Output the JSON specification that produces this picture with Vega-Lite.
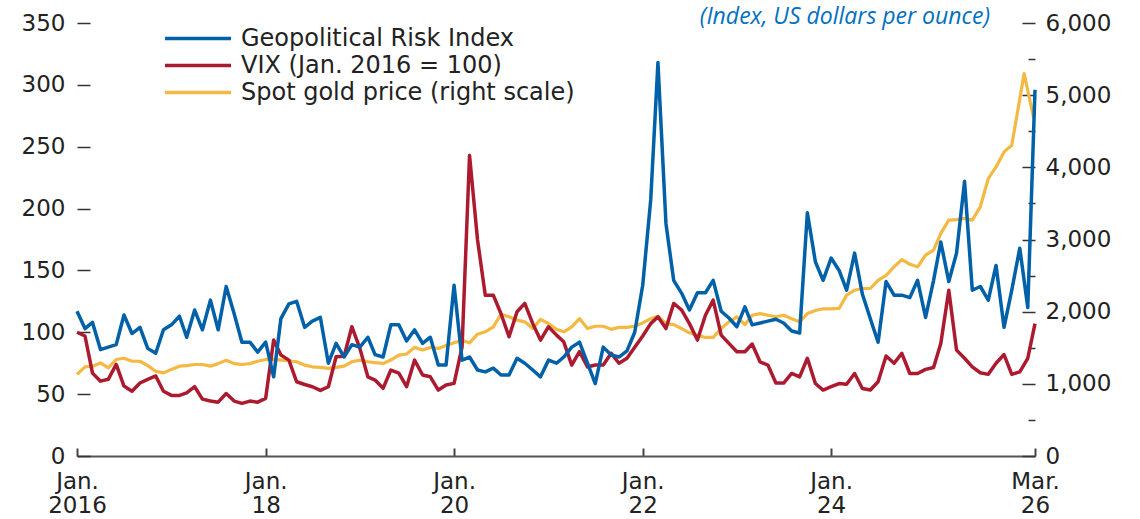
{
  "$schema": "https://vega.github.io/schema/vega-lite/v6.json",
  "width": 958,
  "height": 433,
  "autosize": {"type": "none"},
  "padding": {"left": 77, "top": 23, "right": 105, "bottom": 63},
  "background": "white",
  "config": {"view": {"stroke": null}, "font": "DejaVu Sans"},
  "title": {
    "text": "(Index, US dollars per ounce)",
    "anchor": "end",
    "orient": "top",
    "frame": "group",
    "offset": 0,
    "dx": -45,
    "dy": 35,
    "baseline": "alphabetic",
    "font": "Open Sans",
    "fontStyle": "italic",
    "fontWeight": "normal",
    "fontSize": 23,
    "color": "#0070C0"
  },
  "datasets": {
    "idx": [
      {"d": "2016/01/01", "g": 117, "v": 100},
      {"d": "2016/02/01", "g": 103, "v": 97},
      {"d": "2016/03/01", "g": 108, "v": 67},
      {"d": "2016/04/01", "g": 86, "v": 60.5},
      {"d": "2016/05/01", "g": 88, "v": 62},
      {"d": "2016/06/01", "g": 90, "v": 74},
      {"d": "2016/07/01", "g": 114, "v": 56.5},
      {"d": "2016/08/01", "g": 99, "v": 52.4},
      {"d": "2016/09/01", "g": 104, "v": 59},
      {"d": "2016/10/01", "g": 87, "v": 62},
      {"d": "2016/11/01", "g": 83, "v": 64.7},
      {"d": "2016/12/01", "g": 102, "v": 52.4},
      {"d": "2017/01/01", "g": 106, "v": 49},
      {"d": "2017/02/01", "g": 113, "v": 49},
      {"d": "2017/03/01", "g": 96, "v": 51},
      {"d": "2017/04/01", "g": 118, "v": 56},
      {"d": "2017/05/01", "g": 102, "v": 46},
      {"d": "2017/06/01", "g": 126, "v": 44.4},
      {"d": "2017/07/01", "g": 102, "v": 43.5},
      {"d": "2017/08/01", "g": 137, "v": 50.5},
      {"d": "2017/09/01", "g": 115, "v": 44.4},
      {"d": "2017/10/01", "g": 92, "v": 42.5},
      {"d": "2017/11/01", "g": 92, "v": 44.4},
      {"d": "2017/12/01", "g": 84, "v": 43.5},
      {"d": "2018/01/01", "g": 92, "v": 46.6},
      {"d": "2018/02/01", "g": 64, "v": 93.7},
      {"d": "2018/03/01", "g": 111, "v": 81.6},
      {"d": "2018/04/01", "g": 123, "v": 77.5},
      {"d": "2018/05/01", "g": 125, "v": 60},
      {"d": "2018/06/01", "g": 104, "v": 57.8},
      {"d": "2018/07/01", "g": 109, "v": 56},
      {"d": "2018/08/01", "g": 112, "v": 53},
      {"d": "2018/09/01", "g": 75, "v": 56},
      {"d": "2018/10/01", "g": 91, "v": 80.2},
      {"d": "2018/11/01", "g": 80, "v": 80.7},
      {"d": "2018/12/01", "g": 90, "v": 104.5},
      {"d": "2019/01/01", "g": 88, "v": 87},
      {"d": "2019/02/01", "g": 96, "v": 64},
      {"d": "2019/03/01", "g": 82, "v": 61.4},
      {"d": "2019/04/01", "g": 80, "v": 54.7},
      {"d": "2019/05/01", "g": 106, "v": 69.5},
      {"d": "2019/06/01", "g": 106, "v": 67},
      {"d": "2019/07/01", "g": 93, "v": 56},
      {"d": "2019/08/01", "g": 102, "v": 77.5},
      {"d": "2019/09/01", "g": 91, "v": 65.5},
      {"d": "2019/10/01", "g": 96, "v": 64},
      {"d": "2019/11/01", "g": 73.5, "v": 53.3},
      {"d": "2019/12/01", "g": 73.5, "v": 57.4},
      {"d": "2020/01/01", "g": 138, "v": 58.7},
      {"d": "2020/02/01", "g": 77.5, "v": 88},
      {"d": "2020/03/01", "g": 80, "v": 243},
      {"d": "2020/04/01", "g": 69.5, "v": 174.6},
      {"d": "2020/05/01", "g": 68, "v": 130},
      {"d": "2020/06/01", "g": 71, "v": 130},
      {"d": "2020/07/01", "g": 65.5, "v": 115},
      {"d": "2020/08/01", "g": 65.5, "v": 96.4},
      {"d": "2020/09/01", "g": 79, "v": 116.6},
      {"d": "2020/10/01", "g": 75, "v": 123.3},
      {"d": "2020/11/01", "g": 69.5, "v": 107},
      {"d": "2020/12/01", "g": 64, "v": 93.7},
      {"d": "2021/01/01", "g": 77.5, "v": 104.5},
      {"d": "2021/02/01", "g": 75, "v": 97.7},
      {"d": "2021/03/01", "g": 80, "v": 92.3},
      {"d": "2021/04/01", "g": 88, "v": 73.5},
      {"d": "2021/05/01", "g": 92, "v": 84.3},
      {"d": "2021/06/01", "g": 75, "v": 72},
      {"d": "2021/07/01", "g": 58.6, "v": 73.5},
      {"d": "2021/08/01", "g": 88, "v": 73.5},
      {"d": "2021/09/01", "g": 81.6, "v": 83},
      {"d": "2021/10/01", "g": 80, "v": 75},
      {"d": "2021/11/01", "g": 85, "v": 79},
      {"d": "2021/12/01", "g": 100, "v": 88},
      {"d": "2022/01/01", "g": 138, "v": 97},
      {"d": "2022/02/01", "g": 207, "v": 107},
      {"d": "2022/03/01", "g": 318, "v": 112.5},
      {"d": "2022/04/01", "g": 188, "v": 103},
      {"d": "2022/05/01", "g": 142, "v": 123.3},
      {"d": "2022/06/01", "g": 131.5, "v": 118},
      {"d": "2022/07/01", "g": 118, "v": 107},
      {"d": "2022/08/01", "g": 132, "v": 93.7},
      {"d": "2022/09/01", "g": 132, "v": 113.8},
      {"d": "2022/10/01", "g": 142, "v": 126},
      {"d": "2022/11/01", "g": 117, "v": 97.7},
      {"d": "2022/12/01", "g": 111.5, "v": 91},
      {"d": "2023/01/01", "g": 104.5, "v": 84.3},
      {"d": "2023/02/01", "g": 120.6, "v": 84.3},
      {"d": "2023/03/01", "g": 106, "v": 90.5},
      {"d": "2023/04/01", "g": 107.5, "v": 76},
      {"d": "2023/05/01", "g": 109, "v": 73.5},
      {"d": "2023/06/01", "g": 110.5, "v": 59},
      {"d": "2023/07/01", "g": 107.5, "v": 59},
      {"d": "2023/08/01", "g": 101, "v": 66.7},
      {"d": "2023/09/01", "g": 99.4, "v": 64},
      {"d": "2023/10/01", "g": 196.6, "v": 79},
      {"d": "2023/11/01", "g": 157, "v": 58.6},
      {"d": "2023/12/01", "g": 142, "v": 53.3},
      {"d": "2024/01/01", "g": 160, "v": 56},
      {"d": "2024/02/01", "g": 150, "v": 58.6},
      {"d": "2024/03/01", "g": 134, "v": 58},
      {"d": "2024/04/01", "g": 164, "v": 66.7},
      {"d": "2024/05/01", "g": 131, "v": 54.6},
      {"d": "2024/06/01", "g": 111, "v": 53.3},
      {"d": "2024/07/01", "g": 92, "v": 60},
      {"d": "2024/08/01", "g": 141, "v": 80.8},
      {"d": "2024/09/01", "g": 130, "v": 75},
      {"d": "2024/10/01", "g": 130, "v": 83},
      {"d": "2024/11/01", "g": 128, "v": 66.7},
      {"d": "2024/12/01", "g": 142, "v": 66.7},
      {"d": "2025/01/01", "g": 112, "v": 70},
      {"d": "2025/02/01", "g": 142, "v": 71.5},
      {"d": "2025/03/01", "g": 173, "v": 91},
      {"d": "2025/04/01", "g": 141, "v": 134},
      {"d": "2025/05/01", "g": 164, "v": 85.6},
      {"d": "2025/06/01", "g": 222, "v": 79},
      {"d": "2025/07/01", "g": 134, "v": 72},
      {"d": "2025/08/01", "g": 137, "v": 67.3},
      {"d": "2025/09/01", "g": 126, "v": 66},
      {"d": "2025/10/01", "g": 154, "v": 75},
      {"d": "2025/11/01", "g": 104, "v": 82},
      {"d": "2025/12/01", "g": 134, "v": 66},
      {"d": "2026/01/01", "g": 168, "v": 68},
      {"d": "2026/02/01", "g": 120, "v": 79},
      {"d": "2026/03/01", "g": 296, "v": 107}
    ],
    "gold": [
      {"d": "2016/01/01", "p": 1130},
      {"d": "2016/02/01", "p": 1234},
      {"d": "2016/03/01", "p": 1244},
      {"d": "2016/04/01", "p": 1290},
      {"d": "2016/05/01", "p": 1220},
      {"d": "2016/06/01", "p": 1337},
      {"d": "2016/07/01", "p": 1354},
      {"d": "2016/08/01", "p": 1313},
      {"d": "2016/09/01", "p": 1313},
      {"d": "2016/10/01", "p": 1252},
      {"d": "2016/11/01", "p": 1174},
      {"d": "2016/12/01", "p": 1152},
      {"d": "2017/01/01", "p": 1200},
      {"d": "2017/02/01", "p": 1245},
      {"d": "2017/03/01", "p": 1252},
      {"d": "2017/04/01", "p": 1268},
      {"d": "2017/05/01", "p": 1268},
      {"d": "2017/06/01", "p": 1245},
      {"d": "2017/07/01", "p": 1280},
      {"d": "2017/08/01", "p": 1327},
      {"d": "2017/09/01", "p": 1280},
      {"d": "2017/10/01", "p": 1268},
      {"d": "2017/11/01", "p": 1280},
      {"d": "2017/12/01", "p": 1313},
      {"d": "2018/01/01", "p": 1338},
      {"d": "2018/02/01", "p": 1338},
      {"d": "2018/03/01", "p": 1329},
      {"d": "2018/04/01", "p": 1320},
      {"d": "2018/05/01", "p": 1306},
      {"d": "2018/06/01", "p": 1260},
      {"d": "2018/07/01", "p": 1236},
      {"d": "2018/08/01", "p": 1227},
      {"d": "2018/09/01", "p": 1214},
      {"d": "2018/10/01", "p": 1227},
      {"d": "2018/11/01", "p": 1245},
      {"d": "2018/12/01", "p": 1306},
      {"d": "2019/01/01", "p": 1329},
      {"d": "2019/02/01", "p": 1306},
      {"d": "2019/03/01", "p": 1293},
      {"d": "2019/04/01", "p": 1283},
      {"d": "2019/05/01", "p": 1329},
      {"d": "2019/06/01", "p": 1399},
      {"d": "2019/07/01", "p": 1413},
      {"d": "2019/08/01", "p": 1505},
      {"d": "2019/09/01", "p": 1468},
      {"d": "2019/10/01", "p": 1505},
      {"d": "2019/11/01", "p": 1491},
      {"d": "2019/12/01", "p": 1530},
      {"d": "2020/01/01", "p": 1570},
      {"d": "2020/02/01", "p": 1600},
      {"d": "2020/03/01", "p": 1568},
      {"d": "2020/04/01", "p": 1688},
      {"d": "2020/05/01", "p": 1721},
      {"d": "2020/06/01", "p": 1790},
      {"d": "2020/07/01", "p": 1965},
      {"d": "2020/08/01", "p": 1929},
      {"d": "2020/09/01", "p": 1882},
      {"d": "2020/10/01", "p": 1859},
      {"d": "2020/11/01", "p": 1766},
      {"d": "2020/12/01", "p": 1893},
      {"d": "2021/01/01", "p": 1836},
      {"d": "2021/02/01", "p": 1755},
      {"d": "2021/03/01", "p": 1721},
      {"d": "2021/04/01", "p": 1790},
      {"d": "2021/05/01", "p": 1904},
      {"d": "2021/06/01", "p": 1766},
      {"d": "2021/07/01", "p": 1798},
      {"d": "2021/08/01", "p": 1798},
      {"d": "2021/09/01", "p": 1755},
      {"d": "2021/10/01", "p": 1782},
      {"d": "2021/11/01", "p": 1782},
      {"d": "2021/12/01", "p": 1798},
      {"d": "2022/01/01", "p": 1845},
      {"d": "2022/02/01", "p": 1903},
      {"d": "2022/03/01", "p": 1937},
      {"d": "2022/04/01", "p": 1834},
      {"d": "2022/05/01", "p": 1820},
      {"d": "2022/06/01", "p": 1766},
      {"d": "2022/07/01", "p": 1707},
      {"d": "2022/08/01", "p": 1675},
      {"d": "2022/09/01", "p": 1643},
      {"d": "2022/10/01", "p": 1643},
      {"d": "2022/11/01", "p": 1766},
      {"d": "2022/12/01", "p": 1859},
      {"d": "2023/01/01", "p": 1929},
      {"d": "2023/02/01", "p": 1820},
      {"d": "2023/03/01", "p": 1951},
      {"d": "2023/04/01", "p": 1973},
      {"d": "2023/05/01", "p": 1951},
      {"d": "2023/06/01", "p": 1929},
      {"d": "2023/07/01", "p": 1951},
      {"d": "2023/08/01", "p": 1903},
      {"d": "2023/09/01", "p": 1859},
      {"d": "2023/10/01", "p": 1973},
      {"d": "2023/11/01", "p": 2016},
      {"d": "2023/12/01", "p": 2040},
      {"d": "2024/01/01", "p": 2040},
      {"d": "2024/02/01", "p": 2045},
      {"d": "2024/03/01", "p": 2228},
      {"d": "2024/04/01", "p": 2297},
      {"d": "2024/05/01", "p": 2321},
      {"d": "2024/06/01", "p": 2321},
      {"d": "2024/07/01", "p": 2434},
      {"d": "2024/08/01", "p": 2503},
      {"d": "2024/09/01", "p": 2622},
      {"d": "2024/10/01", "p": 2722},
      {"d": "2024/11/01", "p": 2657},
      {"d": "2024/12/01", "p": 2622},
      {"d": "2025/01/01", "p": 2784},
      {"d": "2025/02/01", "p": 2854},
      {"d": "2025/03/01", "p": 3084},
      {"d": "2025/04/01", "p": 3268},
      {"d": "2025/05/01", "p": 3275},
      {"d": "2025/06/01", "p": 3292},
      {"d": "2025/07/01", "p": 3268},
      {"d": "2025/08/01", "p": 3453},
      {"d": "2025/09/01", "p": 3845},
      {"d": "2025/10/01", "p": 4006},
      {"d": "2025/11/01", "p": 4214},
      {"d": "2025/12/01", "p": 4306},
      {"d": "2026/01/18", "p": 5300},
      {"d": "2026/02/24", "p": 4680}
    ]
  },
  "layer": [
    {
      "data": {"name": "gold"},
      "mark": {"type": "line", "strokeWidth": 3.2, "strokeJoin": "round"},
      "encoding": {
        "x": {
          "field": "d",
          "type": "temporal",
          "scale": {"domain": [{"year": 2016, "month": 1, "date": 1}, {"year": 2026, "month": 3, "date": 1}]},
          "axis": {
            "values": [
              {"year": 2016, "month": 1, "date": 1},
              {"year": 2018, "month": 1, "date": 1},
              {"year": 2020, "month": 1, "date": 1},
              {"year": 2022, "month": 1, "date": 1},
              {"year": 2024, "month": 1, "date": 1},
              {"year": 2026, "month": 3, "date": 1}
            ],
            "labelExpr": "year(datum.value) === 2016 ? ['Jan.', '2016'] : (month(datum.value) === 2 ? ['Mar.', '26'] : ['Jan.', substring(toString(year(datum.value)), 2)])",
            "tickSize": -8,
            "tickColor": "#444",
            "tickWidth": 2,
            "domainColor": "#555",
            "domainWidth": 2,
            "labelFontSize": 23,
            "labelColor": "#222",
            "labelPadding": 22,
            "labelLineHeight": 24,
            "labelFlush": false,
            "labelOverlap": false,
            "grid": false,
            "title": null
          }
        },
        "y": {
          "field": "p",
          "type": "quantitative",
          "scale": {"domain": [0, 6000]},
          "axis": {
            "orient": "right",
            "values": [0, 500, 1000, 1500, 2000, 2500, 3000, 3500, 4000, 4500, 5000, 5500, 6000],
            "labelExpr": "datum.value % 1000 === 0 ? format(datum.value, ',') : ''",
            "tickSize": {"condition": {"test": "datum.value % 1000 === 0", "value": -13}, "value": -7},
            "tickColor": "#333",
            "tickWidth": 1.5,
            "domain": false,
            "grid": false,
            "title": null,
            "labelFontSize": 23,
            "labelColor": "#222",
            "labelPadding": 23
          }
        },
        "color": {
          "datum": "Spot gold price (right scale)",
          "scale": {
            "domain": ["Geopolitical Risk Index", "VIX (Jan. 2016 = 100)", "Spot gold price (right scale)"],
            "range": ["#0061A8", "#AC1A2F", "#F4B942"]
          },
          "legend": {
            "orient": "none",
            "legendX": 86,
            "legendY": 2,
            "title": null,
            "symbolType": "stroke",
            "symbolSize": 4356,
            "symbolStrokeWidth": 3.5,
            "labelFontSize": 24,
            "labelColor": "#222",
            "labelLimit": 0,
            "labelOffset": 8,
            "padding": 0,
            "clipHeight": 27,
            "rowPadding": 0
          }
        }
      }
    },
    {
      "data": {"name": "idx"},
      "layer": [
        {
          "mark": {"type": "line", "strokeWidth": 3.5, "strokeJoin": "round"},
          "encoding": {
            "x": {"field": "d", "type": "temporal"},
            "y": {
              "field": "v",
              "type": "quantitative",
              "scale": {"domain": [0, 350]},
              "axis": {
                "orient": "left",
                "values": [0, 25, 50, 75, 100, 125, 150, 175, 200, 225, 250, 275, 300, 325, 350],
                "labelExpr": "datum.value % 50 === 0 ? datum.label : ''",
                "tickSize": {"condition": {"test": "datum.value % 50 === 0", "value": -13}, "value": -6},
                "tickColor": "#333",
                "tickWidth": 1.5,
                "domain": false,
                "grid": false,
                "title": null,
                "labelFontSize": 23,
                "labelColor": "#222",
                "labelPadding": 25
              }
            },
            "color": {"datum": "VIX (Jan. 2016 = 100)"}
          }
        },
        {
          "mark": {"type": "line", "strokeWidth": 3.5, "strokeJoin": "round"},
          "encoding": {
            "x": {"field": "d", "type": "temporal"},
            "y": {"field": "g", "type": "quantitative"},
            "color": {"datum": "Geopolitical Risk Index"}
          }
        }
      ]
    }
  ],
  "resolve": {"scale": {"y": "independent"}}
}
